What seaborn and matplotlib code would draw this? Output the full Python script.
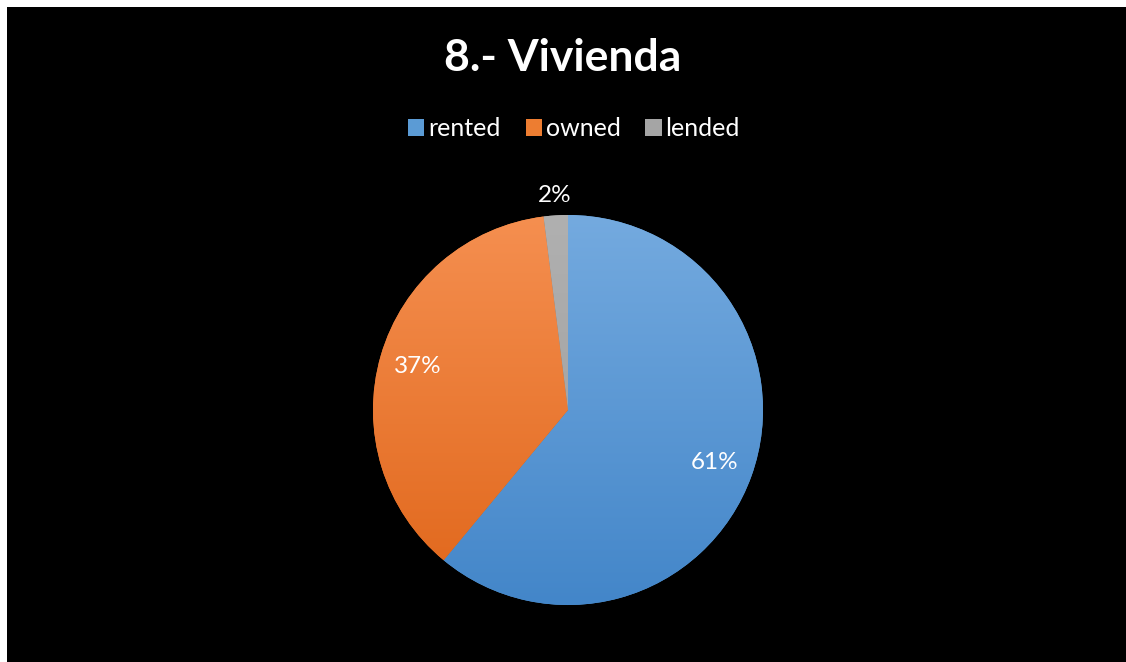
import numpy as np
import matplotlib
matplotlib.use("Agg")
import matplotlib.pyplot as plt
import seaborn as sns
from matplotlib.colors import LinearSegmentedColormap
from matplotlib.patches import Rectangle

categories = ["rented", "owned", "lended"]
values = [61, 37, 2]
labels = ["61%", "37%", "2%"]
title = "8.- Vivienda"

sns.set_theme(style="dark")
plt.rcParams['font.family'] = ['Lato', 'DejaVu Sans']

base_colors = ["#5B9BD5", "#ED7D31", "#A5A5A5"]
grad = [("#4386C9", "#74AADF"), ("#E0661A", "#F58F50"), ("#9C9C9C", "#B0B0B0")]

fig = plt.figure(figsize=(11.26, 6.62), dpi=100, facecolor="white")
fig.patches.append(Rectangle((7/1126, 0), 1 - 7/1126, 1 - 7/662, transform=fig.transFigure,
                             facecolor="black", edgecolor="none", zorder=-10))

ax = fig.add_axes([(568-195)/1126, (662-605)/662, 390/1126, 390/662])
ax.set_facecolor("none")
wedges, _ = ax.pie(values, colors=base_colors, startangle=90, counterclock=False,
                   radius=1, wedgeprops=dict(linewidth=0))
ax.set_xlim(-1, 1)
ax.set_ylim(-1, 1)
ax.set_aspect("equal")
ax.axis("off")

for w, (c0, c1) in zip(wedges, grad):
    cmap = LinearSegmentedColormap.from_list("g", [c0, c1])
    g = np.linspace(0, 1, 256).reshape(-1, 1)
    im = ax.imshow(g, cmap=cmap, extent=(-1, 1, -1, 1), origin="lower", aspect="auto", zorder=2)
    im.set_clip_path(w)

# label positions
cum = np.cumsum([0] + values)
for i, (v, lab) in enumerate(zip(values, labels)):
    mid = 90 - (cum[i] + v / 2) / sum(values) * 360
    r = 1.10 if v < 5 else 0.80
    x, y = r * np.cos(np.radians(mid)), r * np.sin(np.radians(mid))
    ax.text(x, y, lab, ha="center", va="center", color="white", fontsize=17.5, zorder=5)

fig.text(0.5, 1 - 58/662, title, ha="center", va="center", color="white",
         fontsize=32, fontweight="bold")

handles = [Rectangle((0, 0), 1, 1, facecolor=c, edgecolor="none") for c in base_colors]
leg = fig.legend(handles, categories, loc="center", bbox_to_anchor=(574/1126, 1 - 129/662),
                 ncol=3, frameon=False, fontsize=18, handlelength=0.65, handleheight=0.65,
                 handletextpad=0.15, columnspacing=1.0)
for t in leg.get_texts():
    t.set_color("white")

fig.savefig("out.png", dpi=100, facecolor=fig.get_facecolor())
